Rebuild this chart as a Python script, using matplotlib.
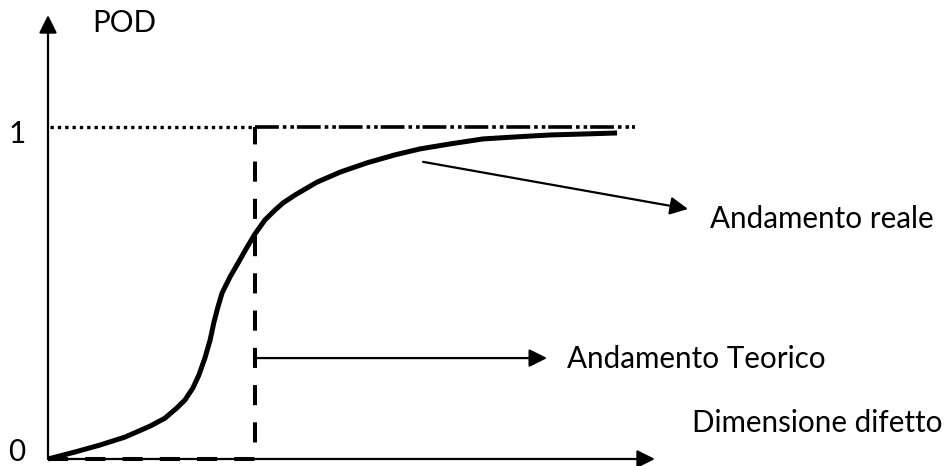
import matplotlib
matplotlib.use('Agg')
import matplotlib.pyplot as plt

plt.rcParams['font.family'] = ['Lato', 'DejaVu Sans']

# curva reale (POD vs dimensione difetto)
x_reale = [0.000, 0.130, 0.251, 0.372, 0.493, 0.565, 0.623, 0.662, 0.700,
           0.729, 0.758, 0.783, 0.802, 0.821, 0.841, 0.860, 0.879, 0.918,
           0.957, 1.000, 1.048, 1.097, 1.135, 1.193, 1.242, 1.300, 1.411,
           1.541, 1.676, 1.797, 1.942, 2.101, 2.256, 2.425, 2.594, 2.749]
y_reale = [0.000, 0.021, 0.042, 0.066, 0.099, 0.123, 0.154, 0.178, 0.214,
           0.253, 0.304, 0.358, 0.413, 0.458, 0.500, 0.524, 0.548, 0.590,
           0.633, 0.678, 0.720, 0.750, 0.771, 0.795, 0.813, 0.834, 0.864,
           0.892, 0.916, 0.934, 0.949, 0.964, 0.970, 0.976, 0.979, 0.982]

# andamento teorico (gradino)
x_soglia = 1.0
x_fine = 2.836
pod_max = 1.0

# estremi degli assi
x_asse = 2.932
y_asse = 1.337

# frecce delle etichette
freccia_reale = [(1.812, 0.895), (3.092, 0.753)]
freccia_teorico = [(1.0, 0.304), (2.411, 0.304)]

fig = plt.figure(figsize=(9.47, 4.66), dpi=100)
ax = fig.add_axes([0, 0, 1, 1])
ax.set_xlim(-0.2319, 4.343)
ax.set_ylim(-0.0211, 1.3825)
ax.axis('off')

head = dict(arrowstyle='-|>,head_length=0.4,head_width=0.2', mutation_scale=27,
            color='k', lw=1.6, shrinkA=0, shrinkB=0)

# assi
ax.annotate('', xy=(0, y_asse), xytext=(0, 0), arrowprops=head)
ax.annotate('', xy=(x_asse, 0), xytext=(0, 0), arrowprops=head)

# linea POD=1 punteggiata e tratto-punto
ax.plot([0.01, x_soglia], [pod_max, pod_max], color='k', lw=2.4,
        dashes=(1, 1.2), dash_capstyle='butt')
ax.plot([x_soglia, x_fine], [pod_max, pod_max], color='k', lw=2.6,
        dashes=(6.6, 1.1, 1.0, 1.1, 1.0, 0.8), dash_capstyle='butt')

# gradino tratteggiato
ax.plot([0, x_soglia, x_soglia], [0, 0, pod_max], color='k', lw=2.9,
        dashes=(5, 4.25), dash_capstyle='butt')

# curva reale
ax.plot(x_reale, y_reale, color='k', lw=3.6, solid_capstyle='butt',
        solid_joinstyle='round')

ax.annotate('', xy=freccia_reale[1], xytext=freccia_reale[0], arrowprops=head)
ax.annotate('', xy=freccia_teorico[1], xytext=freccia_teorico[0], arrowprops=head)

fs = 21.3
ax.text(0.213, 1.286, 'POD', fontsize=fs, ha='left', va='baseline')
ax.text(-0.150, 0.952, '1', fontsize=fs, ha='center', va='baseline')
ax.text(-0.150, -0.006, '0', fontsize=fs, ha='center', va='baseline')
ax.text(3.198, 0.696, 'Andamento reale', fontsize=fs, ha='left', va='baseline')
ax.text(2.507, 0.274, 'Andamento Teorico', fontsize=fs, ha='left', va='baseline')
ax.text(3.111, 0.081, 'Dimensione difetto', fontsize=fs, ha='left', va='baseline')

fig.savefig('out.png', dpi=100)
